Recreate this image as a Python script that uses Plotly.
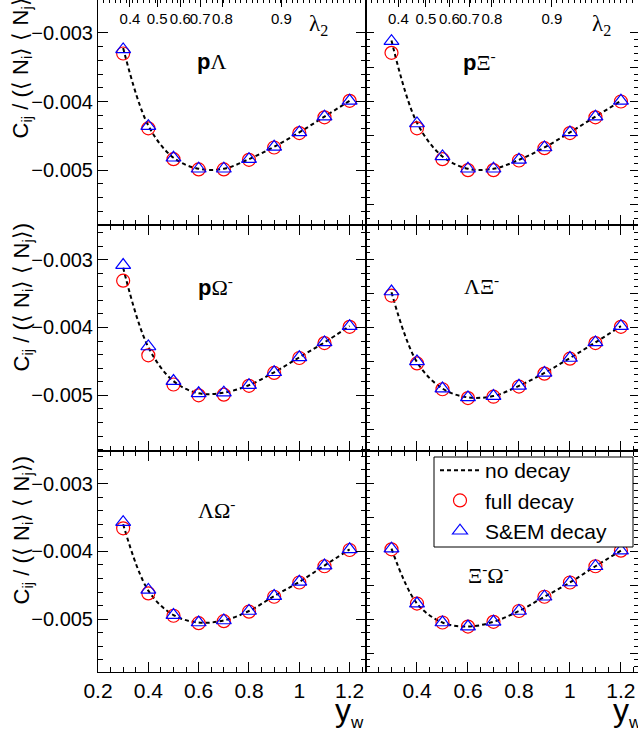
import plotly.graph_objects as go

W, H = 638, 732

# ---------------- data ----------------
yw = [0.3, 0.4, 0.5, 0.6, 0.7, 0.8, 0.9, 1.0, 1.1, 1.2]

pL_none = [-0.00322, -0.00435, -0.00482, -0.00498, -0.00498, -0.00484, -0.00466, -0.00445, -0.00422, -0.00399]
pL_full = [-0.00330, -0.00439, -0.00484, -0.00499, -0.00499, -0.00485, -0.00467, -0.00446, -0.00423, -0.00399]
pL_sem = [-0.00324, -0.00436, -0.00482, -0.00498, -0.00498, -0.00484, -0.00466, -0.00445, -0.00422, -0.00399]

pXi_none = [-0.00311, -0.00431, -0.00480, -0.00498, -0.00498, -0.00485, -0.00467, -0.00445, -0.00422, -0.00399]
pXi_full = [-0.00329, -0.00439, -0.00484, -0.00500, -0.00500, -0.00486, -0.00468, -0.00446, -0.00423, -0.00400]
pXi_sem = [-0.00312, -0.00432, -0.00480, -0.00498, -0.00498, -0.00485, -0.00467, -0.00445, -0.00422, -0.00399]

pOm_none = [-0.00312, -0.00429, -0.00479, -0.00497, -0.00496, -0.00485, -0.00466, -0.00444, -0.00422, -0.00398]
pOm_full = [-0.00331, -0.00441, -0.00484, -0.00500, -0.00499, -0.00486, -0.00467, -0.00445, -0.00423, -0.00399]
pOm_sem = [-0.00308, -0.00428, -0.00479, -0.00497, -0.00496, -0.00485, -0.00466, -0.00444, -0.00422, -0.00398]

LXi_none = [-0.00348, -0.00451, -0.00490, -0.00503, -0.00501, -0.00486, -0.00467, -0.00445, -0.00422, -0.00398]
LXi_full = [-0.00353, -0.00453, -0.00491, -0.00504, -0.00502, -0.00487, -0.00468, -0.00446, -0.00423, -0.00399]
LXi_sem = [-0.00347, -0.00450, -0.00490, -0.00503, -0.00501, -0.00486, -0.00467, -0.00445, -0.00422, -0.00398]

LOm_none = [-0.00360, -0.00458, -0.00494, -0.00505, -0.00502, -0.00488, -0.00466, -0.00445, -0.00421, -0.00397]
LOm_full = [-0.00366, -0.00462, -0.00495, -0.00506, -0.00503, -0.00489, -0.00467, -0.00446, -0.00422, -0.00398]
LOm_sem = [-0.00357, -0.00457, -0.00494, -0.00505, -0.00502, -0.00488, -0.00466, -0.00445, -0.00421, -0.00397]

XiOm_none = [-0.00396, -0.00477, -0.00505, -0.00511, -0.00504, -0.00488, -0.00467, -0.00446, -0.00422, -0.00399]
XiOm_full = [-0.00397, -0.00477, -0.00505, -0.00511, -0.00504, -0.00488, -0.00467, -0.00446, -0.00422, -0.00399]
XiOm_sem = [-0.00396, -0.00477, -0.00505, -0.00511, -0.00504, -0.00488, -0.00467, -0.00446, -0.00422, -0.00399]

panel_labels = [
    '<span style="font-family:Liberation Sans;font-weight:bold">p</span>Λ',
    '<span style="font-family:Liberation Sans;font-weight:bold">p</span>Ξ<sup>-</sup>',
    '<span style="font-family:Liberation Sans;font-weight:bold">p</span>Ω<sup>-</sup>',
    'ΛΞ<sup>-</sup>',
    'ΛΩ<sup>-</sup>',
    'Ξ<sup>-</sup>Ω<sup>-</sup>',
]
series_names = ["no decay", "full decay", "S&EM decay"]

# top axis: lambda_2 labels and the y_w positions where they sit
lam2_labels = ["0.4", "0.5", "0.6", "0.7", "0.8", "0.9"]
lam2_at_yw = [0.327, 0.435, 0.527, 0.606, 0.694, 0.929]

x_ticks = [0.2, 0.4, 0.6, 0.8, 1.0, 1.2]
x_ticktext_left = ["0.2", "0.4", "0.6", "0.8", "1", "1.2"]
x_ticktext_right = ["", "0.4", "0.6", "0.8", "1", "1.2"]
y_ticks = [-0.003, -0.004, -0.005]
y_ticktext = ["−0.003", "−0.004", "−0.005"]
y_ticks_right = [-0.0025, -0.003, -0.0035, -0.004, -0.0045, -0.005, -0.0055]

panels = [
    (pL_none, pL_full, pL_sem),
    (pXi_none, pXi_full, pXi_sem),
    (pOm_none, pOm_full, pOm_sem),
    (LXi_none, LXi_full, LXi_sem),
    (LOm_none, LOm_full, LOm_sem),
    (XiOm_none, XiOm_full, XiOm_sem),
]

# ---------------- layout geometry ----------------
FONT = "Liberation Sans"
col_px = [(98, 366), (366, 637.5)]
row_px = [(0, 225), (225, 451), (451, 672)]
yranges = [[-0.00580, -0.00252], [-0.00582, -0.00249], [-0.00578, -0.00252]]
xrange_ = [0.2, 1.265]

fig = go.Figure()
layout = {}
for i, (none, full, sem) in enumerate(panels):
    r, c = divmod(i, 2)
    n = "" if i == 0 else str(i + 1)
    xa, ya = "x" + n, "y" + n
    fig.add_trace(go.Scatter(x=yw, y=none, mode="lines", name=series_names[0],
                             line=dict(color="black", dash="4px,3px", width=2, shape="spline"),
                             xaxis=xa, yaxis=ya, showlegend=(i == 0), legendrank=1))
    fig.add_trace(go.Scatter(x=yw, y=full, mode="markers", name=series_names[1],
                             marker=dict(symbol="circle-open", size=13, color="red", line=dict(width=1.2, color="red")),
                             xaxis=xa, yaxis=ya, showlegend=(i == 0), legendrank=2))
    fig.add_trace(go.Scatter(x=yw, y=sem, mode="markers", name=series_names[2],
                             marker=dict(symbol="triangle-up-open", size=13, color="blue", line=dict(width=1.2, color="blue")),
                             xaxis=xa, yaxis=ya, showlegend=(i == 0), legendrank=3))

    x0, x1 = col_px[c]
    t, b = row_px[r]
    layout["xaxis" + n] = dict(
        domain=[x0 / W, x1 / W], anchor=ya, range=xrange_, automargin=False,
        tickmode="array", tickvals=x_ticks,
        ticktext=x_ticktext_left if c == 0 else x_ticktext_right,
        showticklabels=(r == 2), ticks="inside", ticklen=10, tickwidth=1, tickcolor="black",
        showline=True, linecolor="black", linewidth=1,
        mirror=("ticks" if r > 0 else False),
        showgrid=False, zeroline=False,
        tickfont=dict(family=FONT, size=21, color="black"),
        minor=dict(tickmode="linear", tick0=0.2, dtick=0.05, ticks="inside", ticklen=5, tickcolor="black"),
    )
    yax = dict(
        domain=[1 - b / H, 1 - t / H], anchor=xa, range=yranges[r], automargin=False,
        showline=True, linecolor="black", linewidth=1, mirror="ticks",
        showgrid=False, zeroline=False, ticks="inside", tickcolor="black",
        tickfont=dict(family=FONT, size=20, color="black"),
    )
    if c == 0:
        yax.update(tickmode="array", tickvals=y_ticks, ticktext=y_ticktext, ticklen=10,
                   minor=dict(tickmode="linear", tick0=-0.003, dtick=0.0002, ticks="inside", ticklen=5, tickcolor="black"))
    else:
        yax.update(tickmode="array", tickvals=y_ticks_right, showticklabels=False, ticklen=8,
                   minor=dict(tickmode="linear", tick0=-0.003, dtick=0.0001, ticks="inside", ticklen=4, tickcolor="black"))
    layout["yaxis" + n] = yax

# lambda_2 top axes on top-row panels
for k, base in enumerate(["x", "x2"]):
    layout["xaxis" + str(7 + k)] = dict(
        overlaying=base, anchor="y" if k == 0 else "y2", side="top", range=xrange_, automargin=False,
        tickmode="array", tickvals=lam2_at_yw, ticktext=lam2_labels, tickangle=0,
        ticks="inside", ticklen=7, tickcolor="black", ticklabelposition="inside", ticklabelstandoff=6,
        showline=False, showgrid=False, zeroline=False,
        tickfont=dict(family=FONT, size=15, color="black"),
        minor=dict(tickmode="linear", tick0=0.2, dtick=0.0227, ticks="inside", ticklen=3, tickcolor="black"),
    )
# invisible trace to activate top axes
for k in range(2):
    fig.add_trace(go.Scatter(x=[None], y=[None], xaxis="x" + str(7 + k), yaxis="y" if k == 0 else "y2",
                             showlegend=False, hoverinfo="skip"))

annotations = []
label_pos = [(211, 62), (479, 61), (215, 286), (482, 285), (216, 509), (488, 574)]
for txt, (px, py) in zip(panel_labels, label_pos):
    annotations.append(dict(text=txt, x=px / W, y=1 - py / H, xref="paper", yref="paper",
                            showarrow=False, xanchor="center", yanchor="middle",
                            font=dict(family="Liberation Serif", size=22, color="black")))

ytitle = "C<sub>ij</sub> / (⟨ N<sub>i</sub>⟩ ⟨ N<sub>j</sub>⟩)"
for top_px in [-12, 221, 454]:
    annotations.append(dict(text=ytitle, x=22 / W, y=1 - top_px / H, xref="paper", yref="paper",
                            textangle=-90, showarrow=False, xanchor="center", yanchor="top",
                            font=dict(family=FONT, size=22, color="black")))

for px in [349, 627]:
    annotations.append(dict(text='y<sub><span style="font-size:17px">w</span></sub>', x=px / W, y=1 - 712 / H,
                            xref="paper", yref="paper", showarrow=False, xanchor="center", yanchor="middle",
                            font=dict(family=FONT, size=32, color="black")))
for px in [318, 601]:
    annotations.append(dict(text='λ<sub>2</sub>', x=px / W, y=1 - 25 / H,
                            xref="paper", yref="paper", showarrow=False, xanchor="center", yanchor="middle",
                            font=dict(family="Liberation Serif", size=23, color="black")))

# legend frame
shapes = [dict(type="rect", xref="paper", yref="paper", x0=434 / W, x1=633 / W,
               y0=1 - 547 / H, y1=1 - 457 / H, line=dict(color="black", width=1),
               fillcolor="white", layer="above")]

fig.update_layout(
    **layout,
    width=W, height=H,
    margin=dict(l=0, r=0, t=0, b=0, autoexpand=False),
    paper_bgcolor="white", plot_bgcolor="white",
    annotations=annotations,
    shapes=shapes,
    legend=dict(x=435 / W, y=1 - 450 / H, xanchor="left", yanchor="top",
                bgcolor="rgba(0,0,0,0)", borderwidth=0,
                font=dict(family=FONT, size=21, color="black"),
                tracegroupgap=0, itemwidth=40),
    showlegend=True,
)

fig.write_html("out.html")
